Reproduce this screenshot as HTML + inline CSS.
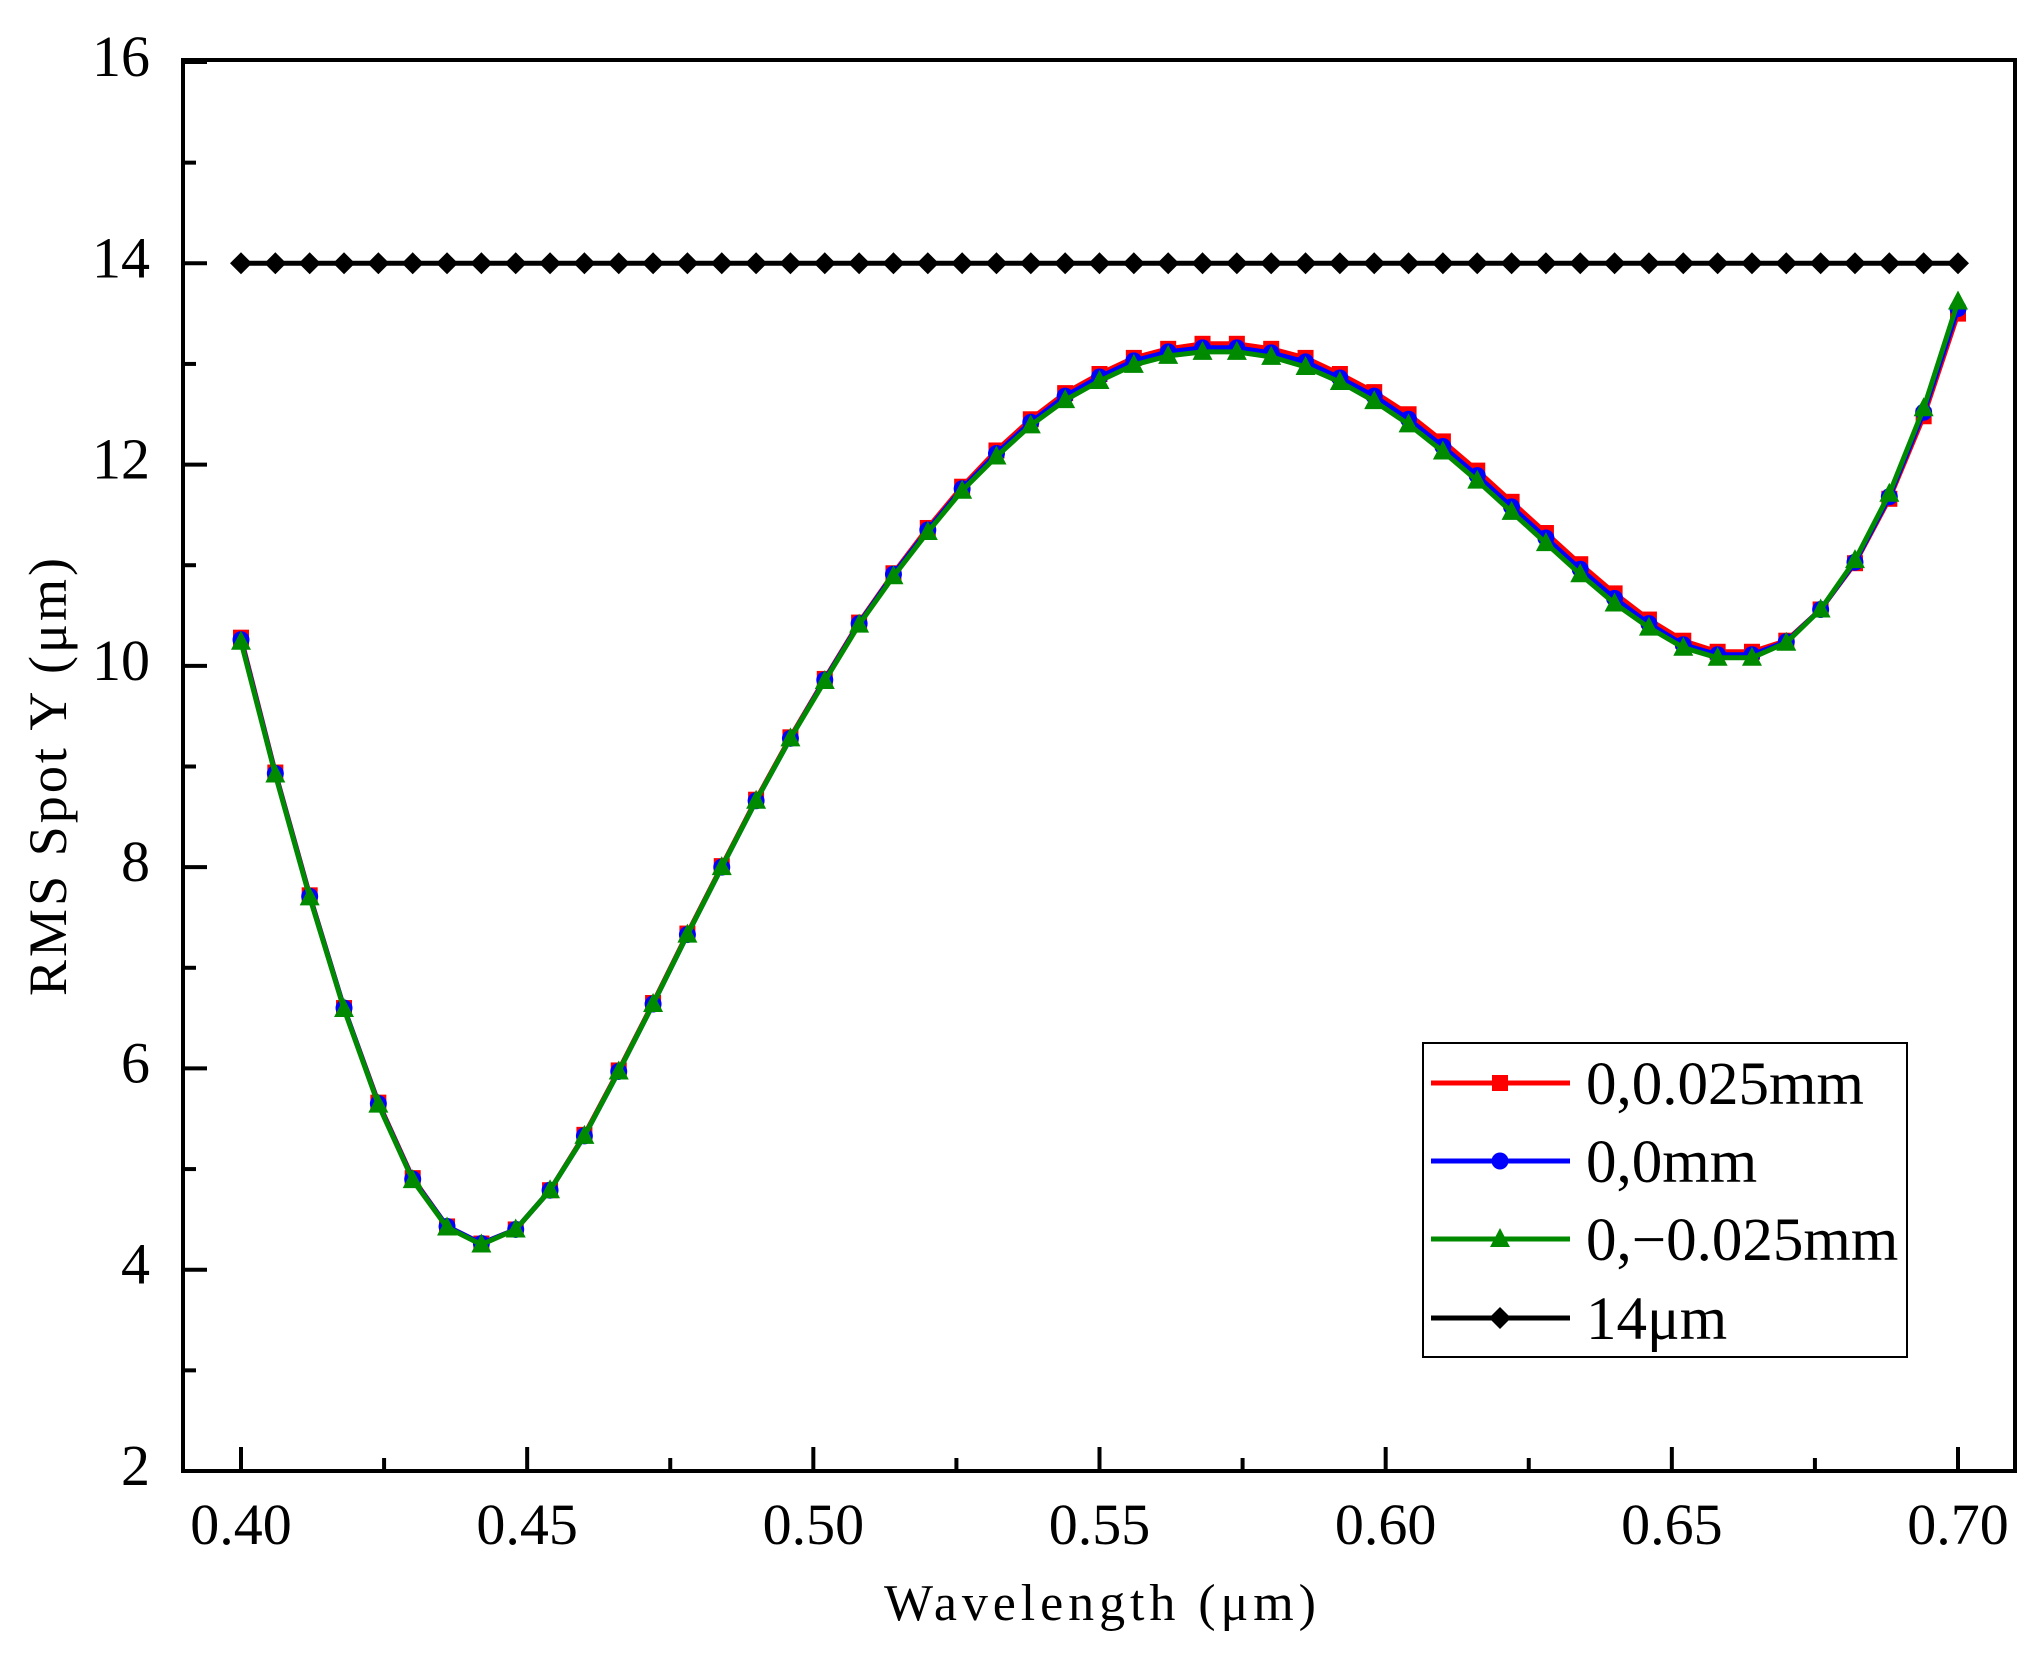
<!DOCTYPE html>
<html><head><meta charset="utf-8"><style>
html,body{margin:0;padding:0;background:#fff;}
svg text{font-family:"Liberation Serif","DejaVu Serif",serif;fill:#000;}
</style></head><body>
<svg id="chart" width="2040" height="1652" viewBox="0 0 2040 1652" xmlns="http://www.w3.org/2000/svg">
<rect width="2040" height="1652" fill="#fff"/>
<g id="plot"></g>
</svg>
<script>
const wavelengths = [0.400,0.406,0.412,0.418,0.424,0.430,0.436,0.442,0.448,0.454,0.460,0.466,0.472,0.478,0.484,0.490,0.496,0.502,0.508,0.514,0.520,0.526,0.532,0.538,0.544,0.550,0.556,0.562,0.568,0.574,0.580,0.586,0.592,0.598,0.604,0.610,0.616,0.622,0.628,0.634,0.640,0.646,0.652,0.658,0.664,0.670,0.676,0.682,0.688,0.694,0.700];
const seriesPos = [10.28,8.94,7.72,6.60,5.66,4.91,4.43,4.26,4.40,4.79,5.34,5.98,6.65,7.34,8.01,8.67,9.29,9.87,10.43,10.92,11.37,11.78,12.14,12.45,12.71,12.90,13.06,13.15,13.20,13.20,13.15,13.06,12.90,12.72,12.50,12.23,11.94,11.63,11.32,11.01,10.72,10.46,10.25,10.14,10.14,10.25,10.56,11.02,11.66,12.48,13.50];
const seriesZero = [10.26,8.93,7.71,6.60,5.65,4.90,4.43,4.26,4.40,4.79,5.33,5.97,6.64,7.33,8.00,8.66,9.28,9.86,10.42,10.91,11.35,11.76,12.11,12.42,12.68,12.87,13.03,13.12,13.16,13.16,13.11,13.02,12.86,12.68,12.45,12.18,11.89,11.58,11.27,10.96,10.67,10.42,10.21,10.11,10.11,10.24,10.56,11.03,11.68,12.52,13.55];
const seriesNeg = [10.24,8.92,7.70,6.59,5.64,4.89,4.42,4.25,4.40,4.79,5.33,5.97,6.64,7.33,8.00,8.66,9.28,9.85,10.41,10.89,11.33,11.74,12.08,12.39,12.64,12.83,12.99,13.08,13.12,13.12,13.07,12.97,12.82,12.63,12.40,12.13,11.84,11.53,11.22,10.91,10.62,10.38,10.18,10.08,10.08,10.23,10.56,11.05,11.71,12.56,13.62];
const seriesLimit = [14,14,14,14,14,14,14,14,14,14,14,14,14,14,14,14,14,14,14,14,14,14,14,14,14,14,14,14,14,14,14,14,14,14,14,14,14,14,14,14,14,14,14,14,14,14,14,14,14,14,14];
const xTickValues = [0.40,0.45,0.50,0.55,0.60,0.65,0.70];
const xTickLabels = ["0.40","0.45","0.50","0.55","0.60","0.65","0.70"];
const yTickValues = [2,4,6,8,10,12,14,16];
const yTickLabels = ["2","4","6","8","10","12","14","16"];
const legendLabels = ["0,0.025mm","0,0mm","0,\u22120.025mm","14\u03bcm"];

const NS="http://www.w3.org/2000/svg";
const X0=183, X1=2015, Y0=60, Y1=1471;
function xs(v){return 241+(v-0.40)/0.30*(1958-241);}
function ys(v){return 1471-(v-2)/14*(1471-62);}
const g=document.getElementById('plot');
function mk(tag,attrs,parent){const e=document.createElementNS(NS,tag);for(const k in attrs)e.setAttribute(k,attrs[k]);(parent||g).appendChild(e);return e;}

function marker(type,x,y,color,parent){
  let e;
  if(type==='square'){e=mk('rect',{x:x-8,y:y-8,width:16,height:16,fill:color},parent);}
  else if(type==='circle'){e=mk('circle',{cx:x,cy:y,r:8.5,fill:color},parent);}
  else if(type==='triangle'){e=mk('polygon',{points:`${x},${y-11} ${x+10},${y+8} ${x-10},${y+8}`,fill:color},parent);}
  else {e=mk('polygon',{points:`${x},${y-11} ${x+11},${y} ${x},${y+11} ${x-11},${y}`,fill:color},parent);}
  return e;
}
const defs=[[seriesPos,'#ff0000','square','series-0-0.025mm'],[seriesZero,'#0000ff','circle','series-0-0mm'],[seriesNeg,'#008a00','triangle','series-0-neg0.025mm'],[seriesLimit,'#000000','diamond','series-14um']];
defs.forEach(([vals,col,mt,name])=>{
  const sg=mk('g',{});
  
  
  const pts=vals.map((v,i)=>xs(wavelengths[i]).toFixed(1)+','+ys(v).toFixed(1)).join(' ');
  const pl=mk('polyline',{points:pts,fill:'none',stroke:col,'stroke-width':5,'stroke-linejoin':'round'},sg);
  
  
  vals.forEach((v,i)=>{
    const m=marker(mt,xs(wavelengths[i]),ys(v),col,sg);
    
    
  });
});

const frame=mk('rect',{x:X0,y:Y0,width:X1-X0,height:Y1-Y0,fill:'none',stroke:'#000','stroke-width':4});



xTickValues.forEach((v,i)=>{
  const x=xs(v);
  mk('line',{x1:x,y1:Y1,x2:x,y2:Y1-24,stroke:'#000','stroke-width':4});
  if(i<xTickValues.length-1){const xm=xs(v+0.025);mk('line',{x1:xm,y1:Y1,x2:xm,y2:Y1-13,stroke:'#000','stroke-width':4});}
  const t=mk('text',{x:x,y:1544,'font-size':58,'text-anchor':'middle'});
  t.textContent=xTickLabels[i];
  
  
});
yTickValues.forEach((v,i)=>{
  const y=ys(v);
  mk('line',{x1:X0,y1:y,x2:X0+24,y2:y,stroke:'#000','stroke-width':4});
  if(i<yTickValues.length-1){const ym=ys(v+1);mk('line',{x1:X0,y1:ym,x2:X0+13,y2:ym,stroke:'#000','stroke-width':4});}
  const t=mk('text',{x:150,y:y+14,'font-size':58,'text-anchor':'end'});
  t.textContent=yTickLabels[i];
  
  
});
const xt=mk('text',{x:1100,y:1620,'font-size':52,'text-anchor':'middle',textLength:432,lengthAdjust:'spacing'});
xt.textContent='Wavelength (\u03bcm)';


const yt=mk('text',{x:0,y:0,'font-size':54,'text-anchor':'middle',textLength:438,lengthAdjust:'spacing',transform:'translate(66,777) rotate(-90)'});
yt.textContent='RMS Spot Y (\u03bcm)';



const lg=mk('g',{});


mk('rect',{x:1423,y:1043,width:484,height:314,fill:'#fff',stroke:'#000','stroke-width':2},lg);
const rowsY=[1083,1161,1239,1318];
defs.forEach(([vals,col,mt,name],i)=>{
  const y=rowsY[i];
  const en=mk('g',{},lg);
  
  
  mk('line',{x1:1431,y1:y,x2:1570,y2:y,stroke:col,'stroke-width':5},en);
  marker(mt,1500,y,col,en);
  const t=mk('text',{x:1586,y:y+21,'font-size':61},en);
  t.textContent=legendLabels[i];
});
</script>
</body></html>
